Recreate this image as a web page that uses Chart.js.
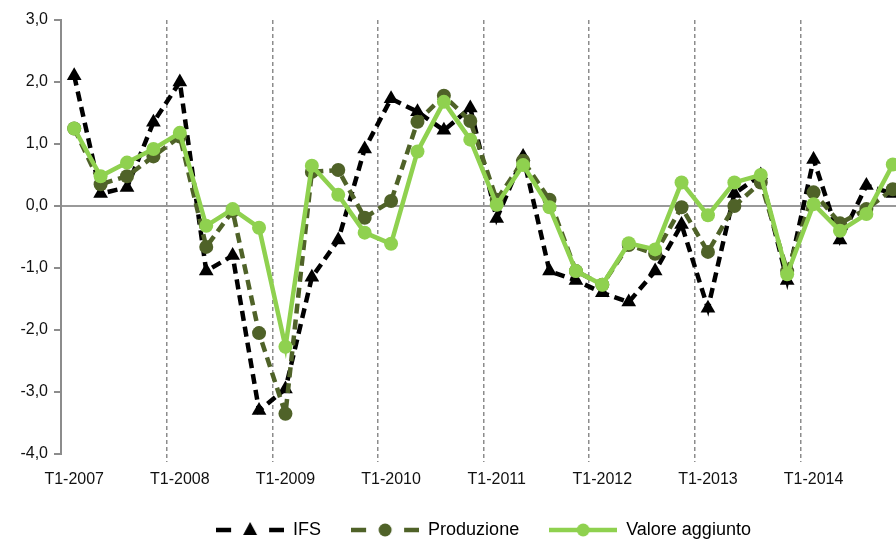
<!DOCTYPE html>
<html>
<head>
<meta charset="utf-8">
<script src="https://cdn.jsdelivr.net/npm/chart.js@4"></script>
<style>
  html, body { margin: 0; padding: 0; background: #fff; overflow: hidden; }
  #wrap { width: 896px; height: 542px; overflow: hidden; position: relative; }
  #chart { position: absolute; left: 0; top: 0; }
</style>
</head>
<body>
<div id="wrap"><canvas id="chart" width="920" height="549"></canvas></div>
<script>
// quarters T1-2007 .. T4-2014
const years = [2007, 2008, 2009, 2010, 2011, 2012, 2013, 2014];
const quarters = [];
years.forEach(y => { for (let q = 1; q <= 4; q++) quarters.push('T' + q + '-' + y); });

const yTicks = [-4, -3, -2, -1, 0, 1, 2, 3];

const ifs = [2.1, 0.2, 0.3, 1.35, 2.0, -1.05, -0.8, -3.3, -2.95, -1.15, -0.55, 0.92,
             1.73, 1.52, 1.22, 1.58, -0.2, 0.8, -1.05, -1.2, -1.4, -1.55, -1.05, -0.3,
             -1.65, 0.2, 0.5, -1.2, 0.75, -0.55, 0.33, 0.2];
const produzione = [1.25, 0.35, 0.48, 0.8, 1.12, -0.66, -0.08, -2.05, -3.35, 0.55, 0.58, -0.19,
                    0.08, 1.36, 1.78, 1.37, 0.1, 0.73, 0.1, -1.05, -1.27, -0.63, -0.77, -0.02,
                    -0.74, 0.0, 0.38, -1.05, 0.22, -0.28, -0.05, 0.27];
const valoreAggiunto = [1.25, 0.48, 0.7, 0.92, 1.18, -0.32, -0.05, -0.35, -2.27, 0.65, 0.18, -0.43,
                        -0.61, 0.88, 1.68, 1.07, 0.02, 0.66, -0.02, -1.05, -1.27, -0.6, -0.7, 0.38,
                        -0.15, 0.38, 0.5, -1.1, 0.03, -0.4, -0.13, 0.67];

const BLACK = '#000000';
const OLIVE = '#4f6228';
const LIGHT = '#8fd14f';
const GRID = '#8c8c8c';
const FONT = "'Liberation Sans', Arial, sans-serif";

// legend sample: line + marker drawn on a small canvas
function legendSample(color, dashed, marker) {
  const c = document.createElement('canvas');
  c.width = 68; c.height = 18;
  const g = c.getContext('2d');
  g.strokeStyle = color;
  g.fillStyle = color;
  g.lineWidth = 4.5;
  g.beginPath();
  if (dashed) {
    g.moveTo(0, 9); g.lineTo(15, 9);
    g.moveTo(53, 9); g.lineTo(68, 9);
  } else {
    g.moveTo(0, 9); g.lineTo(68, 9);
  }
  g.stroke();
  g.beginPath();
  if (marker === 'triangle') {
    g.moveTo(34, 1); g.lineTo(41, 14); g.lineTo(27, 14); g.closePath();
  } else {
    g.arc(34, 9, 6.5, 0, Math.PI * 2);
  }
  g.fill();
  return c;
}
const samples = [
  legendSample(BLACK, true, 'triangle'),
  legendSample(OLIVE, true, 'circle'),
  legendSample(LIGHT, false, 'circle')
];

Chart.defaults.font.family = FONT;
Chart.defaults.font.size = 16;
Chart.defaults.color = '#111';

new Chart(document.getElementById('chart'), {
  type: 'line',
  data: {
    labels: quarters,
    datasets: [{
      label: 'IFS',
      data: ifs,
      order: 3,
      borderColor: BLACK,
      backgroundColor: BLACK,
      borderWidth: 4.5,
      borderDash: [10, 6],
      pointStyle: 'triangle',
      pointRadius: 8.5,
      pointHoverRadius: 8.5,
      pointBorderWidth: 0,
      tension: 0
    }, {
      label: 'Produzione',
      data: produzione,
      order: 2,
      borderColor: OLIVE,
      backgroundColor: OLIVE,
      borderWidth: 4.5,
      borderDash: [10, 6],
      pointStyle: 'circle',
      pointRadius: 7,
      pointHoverRadius: 7,
      pointBorderWidth: 0,
      tension: 0
    }, {
      label: 'Valore aggiunto',
      data: valoreAggiunto,
      order: 1,
      borderColor: LIGHT,
      backgroundColor: LIGHT,
      borderWidth: 4.5,
      pointStyle: 'circle',
      pointRadius: 7,
      pointHoverRadius: 7,
      pointBorderWidth: 0,
      tension: 0
    }]
  },
  options: {
    responsive: false,
    animation: false,
    layout: { padding: { top: 20, right: 14, left: 0, bottom: 0 } },
    scales: {
      x: {
        offset: true,
        afterFit: s => { s.height = 37; },
        border: { display: false, dash: [4, 3] },
        grid: {
          offset: true,
          lineWidth: 1.5,
          color: c => (c.index > 0 && c.index % 4 === 0) ? GRID : 'rgba(0,0,0,0)',
          tickColor: c => (c.index > 0 && c.index % 4 === 0) ? GRID : 'rgba(0,0,0,0)',
          tickLength: 8,
          tickBorderDash: [4, 3]
        },
        ticks: {
          autoSkip: false,
          maxRotation: 0,
          minRotation: 0,
          padding: 8,
          color: '#111',
          callback: (v, i) => i % 4 === 0 ? quarters[i] : ''
        }
      },
      y: {
        min: yTicks[0],
        max: yTicks[yTicks.length - 1],
        afterFit: s => { s.width = 61; },
        afterBuildTicks: s => { s.ticks = yTicks.map(v => ({ value: v })); },
        border: { display: true, color: GRID, width: 2 },
        grid: {
          lineWidth: 2,
          color: c => c.tick && c.tick.value === 0 ? '#999999' : 'rgba(0,0,0,0)',
          tickColor: GRID,
          tickLength: 7
        },
        ticks: {
          padding: 6,
          color: '#111',
          callback: v => v.toFixed(1).replace('.', ',')
        }
      }
    },
    plugins: {
      tooltip: { enabled: false },
      legend: {
        position: 'bottom',
        fullSize: false,
        labels: {
          usePointStyle: true,
          pointStyleWidth: 68,
          boxHeight: 18,
          padding: 30,
          color: '#000',
          font: { size: 18 },
          sort: (a, b) => a.datasetIndex - b.datasetIndex,
          generateLabels: chart => chart.data.datasets.map((ds, i) => ({
            text: ds.label,
            datasetIndex: i,
            pointStyle: samples[i],
            fillStyle: ds.borderColor,
            strokeStyle: ds.borderColor,
            lineWidth: 0,
            hidden: false
          }))
        }
      }
    }
  }
});
</script>
</body>
</html>
